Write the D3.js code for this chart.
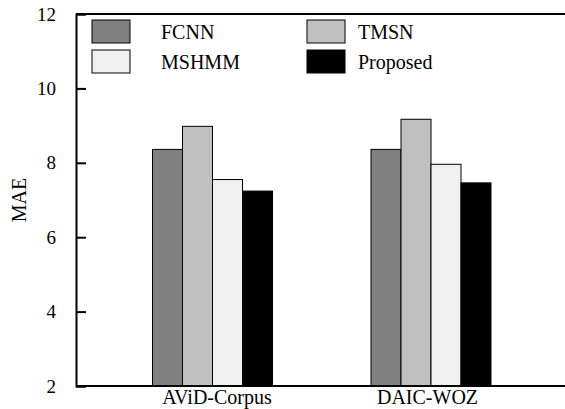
<!DOCTYPE html>
<html>
<head>
<meta charset="utf-8">
<script src="https://cdn.jsdelivr.net/npm/d3@7"></script>
<style>
  body { margin: 0; background: #fff; }
  text { font-family: "Liberation Serif", "Times New Roman", serif; fill: #000; }
</style>
</head>
<body>
<script>
var width = 565, height = 409;

var datasets = ["AViD-Corpus", "DAIC-WOZ"];
var methods = ["FCNN", "TMSN", "MSHMM", "Proposed"];
var fcnn = [8.36, 8.36];
var tmsn = [8.98, 9.17];
var mshmm = [7.55, 7.96];
var proposed = [7.24, 7.46];
var yTicks = [2, 4, 6, 8, 10, 12];
var colors = ["#808080", "#c0c0c0", "#f0f0f0", "#000000"];

var series = [fcnn, tmsn, mshmm, proposed];

var svg = d3.select("body")
    .append("svg")
    .attr("width", width)
    .attr("height", height);

var plotLeft = 76, plotTop = 14, plotBottom = 386, plotRight = 600;

var y = d3.scaleLinear().domain([2, 12]).range([plotBottom, plotTop]);
var x = d3.scalePoint().domain(datasets).range([212.5, 431]);
var xIn = d3.scaleBand().domain(methods).range([-60, 60]);

// bars
datasets.forEach(function (ds, i) {
    var g = svg.append("g").attr("transform", "translate(" + x(ds) + ",0)");
    g.selectAll("rect")
        .data(methods)
        .enter().append("rect")
        .attr("x", function (m) { return xIn(m); })
        .attr("width", xIn.bandwidth())
        .attr("y", function (m, j) { return y(series[j][i]); })
        .attr("height", function (m, j) { return plotBottom - y(series[j][i]); })
        .attr("fill", function (m, j) { return colors[j]; })
        .attr("stroke", "#000")
        .attr("stroke-width", 1);
});

// frame
svg.append("line").attr("x1", plotLeft).attr("x2", plotRight).attr("y1", plotTop).attr("y2", plotTop)
    .attr("stroke", "#000").attr("stroke-width", 2);

var yAxis = d3.axisLeft(y).tickValues(yTicks).tickSize(-10).tickPadding(20);
svg.append("g")
    .attr("transform", "translate(" + plotLeft + ",0)")
    .call(yAxis)
    .call(function (g) {
        g.select(".domain").attr("stroke-width", 2);
        g.selectAll(".tick line").attr("stroke-width", 2);
        g.selectAll(".tick text").style("font-size", "19px")
            .style("font-family", "Liberation Serif, serif");
    });

var xAxis = d3.axisBottom(x).tickSize(0).tickPadding(4);
svg.append("g")
    .attr("transform", "translate(0," + plotBottom + ")")
    .call(xAxis)
    .call(function (g) {
        g.select(".domain").attr("d", "M" + plotLeft + ",0H" + plotRight).attr("stroke-width", 2);
        g.selectAll(".tick text").style("font-size", "20px")
            .style("font-family", "Liberation Serif, serif")
            .attr("dx", function (d, i) { return i === 0 ? 4 : -4; });
    });

svg.append("text")
    .attr("transform", "translate(26," + (plotTop + plotBottom) / 2 + ") rotate(-90)")
    .attr("text-anchor", "middle")
    .style("font-size", "20px")
    .text("MAE");

// legend
var legendPos = [
    { bx: 92, by: 20, tx: 161 },
    { bx: 307, by: 20, tx: 358 },
    { bx: 92, by: 50, tx: 161 },
    { bx: 307, by: 50, tx: 358 }
];
var legend = svg.append("g");
methods.forEach(function (m, j) {
    var p = legendPos[j];
    legend.append("rect")
        .attr("x", p.bx).attr("y", p.by)
        .attr("width", 38).attr("height", 23)
        .attr("fill", colors[j])
        .attr("stroke", "#000").attr("stroke-width", 1);
    legend.append("text")
        .attr("x", p.tx).attr("y", p.by + 19)
        .style("font-size", "20px")
        .text(m);
});
</script>
</body>
</html>
